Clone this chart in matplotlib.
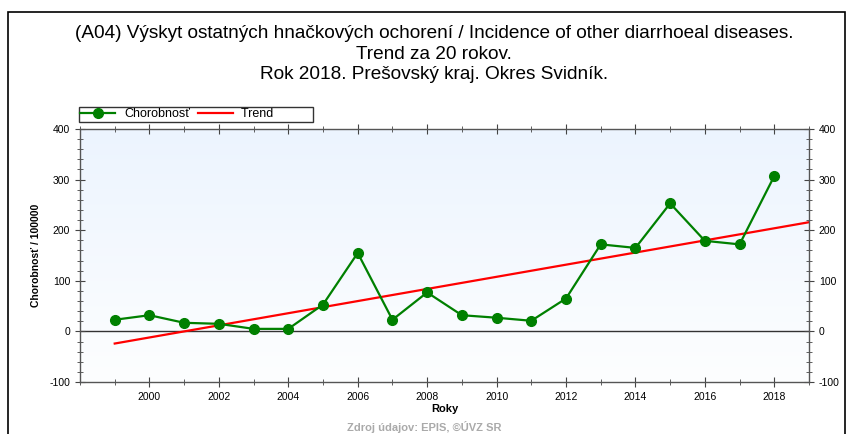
import numpy as np
import matplotlib.pyplot as plt
from matplotlib.patches import Rectangle
from matplotlib.ticker import MultipleLocator, FixedLocator
from matplotlib.colors import LinearSegmentedColormap

plt.rcParams['font.family'] = ['Liberation Sans', 'DejaVu Sans']
plt.rcParams['axes.unicode_minus'] = False

# data
years = [1999, 2000, 2001, 2002, 2003, 2004, 2005, 2006, 2007, 2008,
         2009, 2010, 2011, 2012, 2013, 2014, 2015, 2016, 2017, 2018]
values = [23, 32, 17, 15, 5, 5, 53, 155, 23, 77,
          32, 27, 21, 65, 172, 165, 253, 179, 172, 307]
trend_years = [1999, 2019]
year_ticks = [2000, 2002, 2004, 2006, 2008, 2010, 2012, 2014, 2016, 2018]

title = ("(A04) Výskyt ostatných hnačkových ochorení / Incidence of other diarrhoeal diseases.\n"
         "Trend za 20 rokov.\nRok 2018. Prešovský kraj. Okres Svidník.")

fig = plt.figure(figsize=(8.48, 4.34), dpi=100)
W, H = 848, 434
ax = fig.add_axes([80 / W, 1 - 382 / H, (809 - 80) / W, (382 - 129) / H])

# pozadie - prechod
grad = np.linspace(0, 1, 256).reshape(-1, 1)
cmap = LinearSegmentedColormap.from_list('bg', ['#fdfeff', '#ecf4fe'])
ax.imshow(grad, aspect='auto', cmap=cmap, extent=[1998, 2019, -100, 400],
          origin='lower', zorder=0)

ax.axhline(0, color='#333333', lw=1, zorder=1)

# trend = linearna regresia
coef = np.polyfit(years, values, 1)
trend_vals = np.polyval(coef, trend_years)
l2, = ax.plot(trend_years, trend_vals, color='#ff0000', lw=1.6, zorder=2)
l1, = ax.plot(years, values, color='#008000', lw=1.6, marker='o', markersize=7,
              zorder=3)

ax.set_xlim(1998, 2019)
ax.set_ylim(-100, 400)
ax.xaxis.set_major_locator(FixedLocator(year_ticks))
ax.xaxis.set_minor_locator(MultipleLocator(1))
ax.yaxis.set_major_locator(MultipleLocator(100))
ax.yaxis.set_minor_locator(MultipleLocator(20))
ax.tick_params(axis='both', which='both', colors='#444444', labelcolor='black',
               labelsize=7.5, top=True, right=True, labelright=True,
               direction='inout')
ax.tick_params(axis='both', which='major', length=7)
ax.tick_params(axis='both', which='minor', length=5)
for s in ax.spines.values():
    s.set_color('#555555')
    s.set_linewidth(1)

ax.set_xlabel('Roky', fontsize=8, fontweight='bold', labelpad=2)
ax.set_ylabel('Chorobnosť / 100000', fontsize=7.5, fontweight='bold', labelpad=6)

fig.text(434 / W, 1 - 25 / H, title, ha='center', va='top', fontsize=13.7,
         linespacing=1.27)

leg = fig.legend([l1, l2], ['Chorobnosť', 'Trend' + ' ' * 11], ncol=2,
                 loc='upper left', bbox_to_anchor=(79 / W, 1 - 107 / H),
                 fontsize=9, frameon=True, fancybox=False, edgecolor='black',
                 borderpad=0.1, handlelength=2.8, columnspacing=0.6,
                 handletextpad=0.7, borderaxespad=0)
leg.get_frame().set_linewidth(1)

fig.text(0.5, 1 - 433 / H, 'Zdroj údajov: EPIS, ©ÚVZ SR', ha='center',
         va='bottom', fontsize=8, color='#aaaaaa', fontweight='bold')

fig.patches.append(Rectangle((8 / W, -0.1), (845 - 8) / W, 1.1 - 12 / H,
                             transform=fig.transFigure, fill=False,
                             edgecolor='black', lw=1.2))

fig.savefig('out.png', dpi=100)
